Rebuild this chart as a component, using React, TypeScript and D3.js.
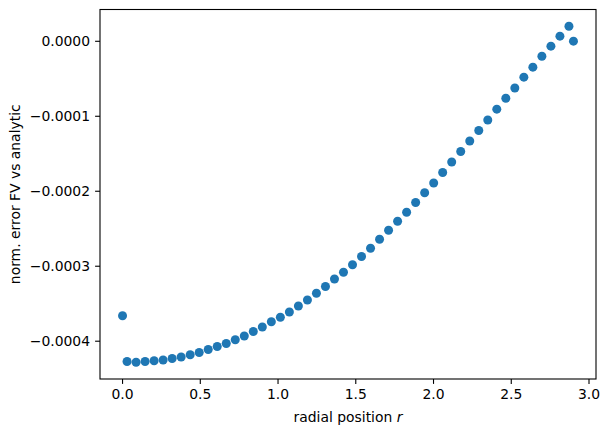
import React from "react";
import * as d3 from "d3";

// radial positions: centre, 50 cell centres (dr = 0.058), outer boundary
const rCentre = [0.0];
const rCells = [
  0.029, 0.087, 0.145, 0.203, 0.261, 0.319, 0.377, 0.435, 0.493, 0.551,
  0.609, 0.667, 0.725, 0.783, 0.841, 0.899, 0.957, 1.015, 1.073, 1.131,
  1.189, 1.247, 1.305, 1.363, 1.421, 1.479, 1.537, 1.595, 1.653, 1.711,
  1.769, 1.827, 1.885, 1.943, 2.001, 2.059, 2.117, 2.175, 2.233, 2.291,
  2.349, 2.407, 2.465, 2.523, 2.581, 2.639, 2.697, 2.755, 2.813, 2.871,
];
const rBoundary = [2.9];

const errCentre = [-0.000366];
const errCells = [
  -0.000427, -0.000428, -0.000427, -0.000426, -0.000425, -0.000423, -0.000421, -0.000418, -0.000415, -0.000411,
  -0.000407, -0.000403, -0.000398, -0.000393, -0.000387, -0.000381, -0.000374, -0.000368, -0.000361, -0.000353,
  -0.000345, -0.000336, -0.000327, -0.000317, -0.000308, -0.000298, -0.000287, -0.000276, -0.000264, -0.000252,
  -0.00024, -0.000228, -0.000215, -0.000202, -0.000189, -0.000175, -0.000161, -0.000147, -0.000133, -0.000119,
  -0.000105, -0.0000905, -0.000076, -0.0000623, -0.0000478, -0.0000345, -0.00002, -0.0000065, 0.0000068, 0.00002,
];
const errBoundary = [0.0000002];

const xTicks = [0.0, 0.5, 1.0, 1.5, 2.0, 2.5, 3.0];
const yTicks = [0.0, -0.0001, -0.0002, -0.0003, -0.0004];

const W = 609;
const H = 436;
const left = 100;
const right = 596;
const top = 9.5;
const bottom = 379;
const FONT = "'DejaVu Sans', sans-serif";

export default function App() {
  const rs = [...rCentre, ...rCells, ...rBoundary];
  const es = [...errCentre, ...errCells, ...errBoundary];
  const pts = rs.map((r, i) => ({ r, e: es[i] }));

  const xMin = d3.min(rs)!, xMax = d3.max(rs)!;
  const yMin = d3.min(es)!, yMax = d3.max(es)!;
  const xm = (xMax - xMin) * 0.05;
  const ym = (yMax - yMin) * 0.05;
  const x = d3.scaleLinear().domain([xMin - xm, xMax + xm]).range([left, right]);
  const y = d3.scaleLinear().domain([yMin - ym, yMax + ym]).range([bottom, top]);

  const fmtY = (v: number) => {
    const s = Math.abs(v).toFixed(4);
    return (v < 0 ? "\u2212" : "") + s;
  };

  return (
    <div style={{ position: "fixed", left: 0, top: 0 }}>
      <svg width={W} height={H} style={{ display: "block", background: "#fff" }}>
        {pts.map((p, i) => (
          <circle key={i} cx={x(p.r)} cy={y(p.e)} r={4.5} fill="#1f77b4" />
        ))}
        <rect x={left} y={top} width={right - left} height={bottom - top} fill="none" stroke="#000" strokeWidth={1.1} />
        {xTicks.map((t) => (
          <g key={"x" + t} transform={`translate(${x(t)},${bottom})`}>
            <line y1={0} y2={4.9} stroke="#000" strokeWidth={1.1} />
            <text y={20} textAnchor="middle" fontFamily={FONT} fontSize={13.9} fill="#000">
              {t.toFixed(1)}
            </text>
          </g>
        ))}
        {yTicks.map((t) => (
          <g key={"y" + t} transform={`translate(${left},${y(t)})`}>
            <line x1={0} x2={-4.9} stroke="#000" strokeWidth={1.1} />
            <text x={-10} dy="0.35em" textAnchor="end" fontFamily={FONT} fontSize={13.9} fill="#000">
              {fmtY(t)}
            </text>
          </g>
        ))}
        <text x={(left + right) / 2} y={422} textAnchor="middle" fontFamily={FONT} fontSize={13.9} fill="#000">
          radial position <tspan fontStyle="italic">r</tspan>
        </text>
        <text
          transform={`translate(20,${(top + bottom) / 2}) rotate(-90)`}
          textAnchor="middle"
          fontFamily={FONT}
          fontSize={13.9}
          fill="#000"
        >
          norm. error FV vs analytic
        </text>
      </svg>
    </div>
  );
}
